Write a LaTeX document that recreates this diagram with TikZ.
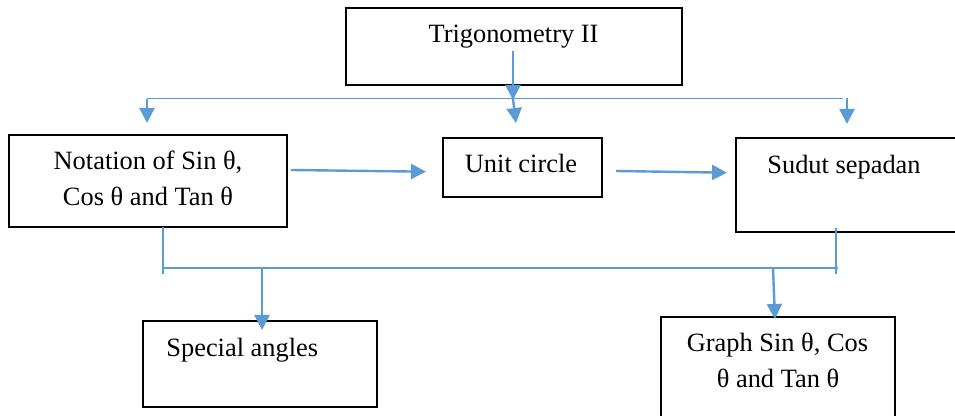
\documentclass[tikz,border=0pt]{standalone}
\usepackage{fontspec}
\setmainfont{Liberation Serif}
\usetikzlibrary{arrows.meta}
\definecolor{lnblue}{HTML}{5B9BD5}
\begin{document}
\begin{tikzpicture}[x=0.5pt,y=-0.5pt,
  box/.style={draw=black, line width=0.65pt, rectangle, inner sep=0pt},
  lbl/.style={inner sep=0pt, anchor=base, font=\fontsize{13.2}{18}\selectfont},
  lblw/.style={lbl, anchor=base west},
  bus/.style={draw=lnblue, line width=0.55pt},
  arr/.style={draw=lnblue, line width=1.2pt, -{Triangle[length=7.5pt,width=7.5pt]}}]
\clip (0,0) rectangle (955,416);
% boxes
\node[box, minimum width=168pt, minimum height=38.5pt] (top) at (514,46.5) {};
\node[box, minimum width=139pt, minimum height=46pt] (nota) at (148,181) {};
\node[box, minimum width=79.5pt, minimum height=29.5pt] (unit) at (522.5,167.5) {};
\node[box, minimum width=110.5pt, minimum height=47pt] (sudut) at (846.5,185) {};
\node[box, minimum width=117pt, minimum height=43pt] (spec) at (260,364) {};
\node[box, minimum width=117pt, minimum height=61.5pt] (graph) at (778,378.5) {};
% texts
\node[lbl] (ttop) at (513.5,43) {Trigonometry II};
\node[lbl] (tnota1) at (148,170) {Notation of Sin θ,};
\node[lbl] (tnota2) at (148,206) {Cos θ and Tan θ};
\node[lbl] (tunit) at (521,173) {Unit circle};
\node[lblw] (tsudut) at (767,174) {Sudut sepadan};
\node[lblw] (tspec) at (166,357) {Special angles};
\node[lbl] (tgraph1) at (777.5,352) {Graph Sin θ, Cos};
\node[lbl] (tgraph2) at (778,388) {θ and Tan θ};
% top bus
\coordinate (t0) at (513,51);
\coordinate (t1) at (513,100);
\coordinate (b1l) at (147,98.7);
\coordinate (b1r) at (843,98.7);
\coordinate (d1a) at (147,98.7);
\coordinate (d1b) at (147,123);
\coordinate (d2a) at (513,99);
\coordinate (d2b) at (516,123);
\coordinate (d3a) at (847,98);
\coordinate (d3b) at (847,124);
\draw[bus] (b1l) -- (b1r);
\draw[arr] (t0) -- (t1);
\draw[arr] (d1a) -- (d1b);
\draw[arr] (d2a) -- (d2b);
\draw[arr] (d3a) -- (d3b);
% horizontal arrows
\coordinate (h1a) at (291,170);
\coordinate (h1b) at (426,171.7);
\coordinate (h2a) at (616,171);
\coordinate (h2b) at (727,172.7);
\draw[arr] (h1a) -- (h1b);
\draw[arr] (h2a) -- (h2b);
% bottom bus
\coordinate (vl1) at (163,227);
\coordinate (vl2) at (163,274);
\coordinate (vr1) at (836,228);
\coordinate (vr2) at (836,274);
\coordinate (b2l) at (163,268);
\coordinate (b2r) at (838,268);
\draw[bus] (vl1) -- (vl2);
\draw[bus] (vr1) -- (vr2);
\draw[bus] (b2l) -- (b2r);
\coordinate (e1a) at (262,268);
\coordinate (e1b) at (262,330);
\coordinate (e2a) at (773,268);
\coordinate (e2b) at (775,319);
\draw[arr] (e1a) -- (e1b);
\draw[arr] (e2a) -- (e2b);
\end{tikzpicture}
\end{document}
